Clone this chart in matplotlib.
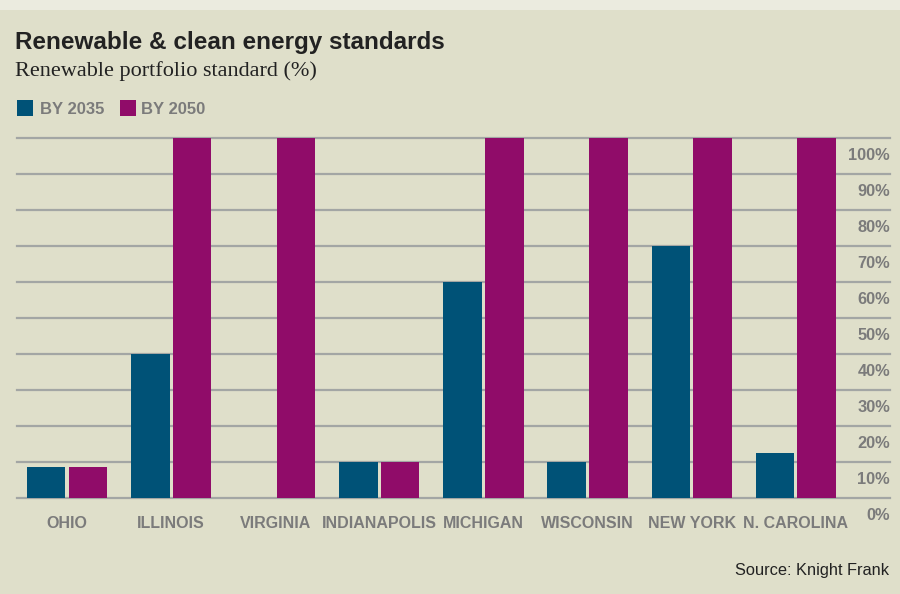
import matplotlib
matplotlib.use("Agg")
import matplotlib.pyplot as plt
import numpy as np
from matplotlib.patches import Rectangle

# Data
states = ["OHIO", "ILLINOIS", "VIRGINIA", "INDIANAPOLIS", "MICHIGAN",
          "WISCONSIN", "NEW YORK", "N. CAROLINA"]
by_2035 = [8.5, 40, 0, 10, 60, 10, 70, 12.5]
by_2050 = [8.5, 100, 100, 10, 100, 100, 100, 100]
y_ticks = [0, 10, 20, 30, 40, 50, 60, 70, 80, 90, 100]
y_tick_labels = [f"{v}%" for v in y_ticks]
series_labels = ["BY 2035", "BY 2050"]

BG = "#dfdfca"
STRIP = "#ebebdf"
BLUE = "#005277"
MAGENTA = "#900c69"
GRID = "#a3a6a4"
LABEL = "#7b7b7b"
DARK = "#222222"
SANS = ["Liberation Sans", "DejaVu Sans"]
SERIF = ["Liberation Serif", "DejaVu Serif"]

W, H = 900, 594
fig = plt.figure(figsize=(W / 100, H / 100), dpi=100)
fig.patch.set_facecolor(BG)

# light strip across the top edge
fig.patches.append(Rectangle((0, 1 - 10 / H), 1, 10 / H, transform=fig.transFigure,
                             facecolor=STRIP, edgecolor="none", zorder=0))

def fx(px):
    return px / W

def fy(py):
    return 1 - py / H

ax = fig.add_axes([fx(17), fy(498), fx(890) - fx(17), fy(138) - fy(498)])
ax.set_facecolor("none")
for s in ax.spines.values():
    s.set_visible(False)

x = np.arange(len(states))
width = 0.37
off = 0.2
ax.bar(x - off, by_2035, width, color=BLUE, zorder=3)
ax.bar(x + off, by_2050, width, color=MAGENTA, zorder=3)

ax.set_xlim(-0.48, 7.905)
ax.set_ylim(0, 100)
ax.set_xticks([])
ax.set_yticks([])

for v in y_ticks:
    ax.axhline(v, color=GRID, lw=1.6, zorder=1, clip_on=False)

# right-side percentage labels sitting just under each gridline
for v, lab in zip(y_ticks, y_tick_labels):
    ax.text(1.0, v - 4.8, lab, transform=ax.get_yaxis_transform(), ha="right", va="center",
            fontsize=11.8, fontweight="bold", color=LABEL, family=SANS, clip_on=False)

for xi, name in zip(x, states):
    ax.text(xi, -7, name, ha="center", va="center", fontsize=11.5,
            fontweight="bold", color=LABEL, family=SANS, clip_on=False)

# titles
fig.text(fx(15), fy(42), "Renewable & clean energy standards", ha="left", va="center",
         fontsize=17.5, fontweight="bold", color=DARK, family=SANS)
fig.text(fx(15), fy(71), "Renewable portfolio standard (%)", ha="left", va="center",
         fontsize=16, color=DARK, family=SERIF)

# legend
for px, col, lab, tx in [(17, BLUE, series_labels[0], 40), (120, MAGENTA, series_labels[1], 141)]:
    fig.patches.append(Rectangle((fx(px), fy(116)), 16 / W, 16 / H, transform=fig.transFigure,
                                 facecolor=col, edgecolor="none"))
    fig.text(fx(tx), fy(109), lab, ha="left", va="center", fontsize=12,
             fontweight="bold", color=LABEL, family=SANS)

fig.text(fx(889), fy(571), "Source: Knight Frank", ha="right", va="center",
         fontsize=11.8, color=DARK, family=SANS)

fig.savefig("out.png", dpi=100, facecolor=BG)
